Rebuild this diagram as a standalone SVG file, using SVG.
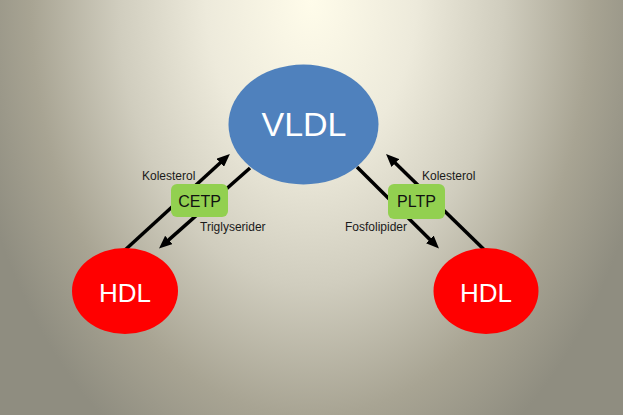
<svg xmlns="http://www.w3.org/2000/svg" width="623" height="415" viewBox="0 0 623 415">
  <defs>
    <radialGradient id="bg" gradientUnits="userSpaceOnUse" cx="0" cy="0" r="1" gradientTransform="translate(311,0) scale(350,520)">
      <stop offset="0" stop-color="#FFFCEA"/>
      <stop offset="0.3" stop-color="#EDEADB"/>
      <stop offset="0.55" stop-color="#D0CDBE"/>
      <stop offset="0.8" stop-color="#A8A493"/>
      <stop offset="1" stop-color="#8F8D80"/>
    </radialGradient>
    <marker id="ah" markerUnits="userSpaceOnUse" markerWidth="14" markerHeight="11" refX="3" refY="5.5" orient="auto">
      <path d="M0,0 L13,5.5 L0,11 z" fill="#000"/>
    </marker>
  </defs>
  <style>
    .conn { stroke: #000; stroke-width: 3.5; fill: none; marker-end: url(#ah); }
    .lbl { font-family: "Liberation Sans", Arial, sans-serif; font-size: 12px; fill: #1a1a1a; }
    .enz { fill: #92D050; }
    .enzt { font-family: "Liberation Sans", Arial, sans-serif; font-size: 16px; fill: #111; text-anchor: middle; }
    .big { font-family: "Liberation Sans", Arial, sans-serif; fill: #fff; text-anchor: middle; }
  </style>
  <rect x="0" y="0" width="623" height="415" fill="url(#bg)"/>

  <g id="connectors">
    <line class="conn" x1="125" y1="250" x2="222.5" y2="160.7"/>
    <line class="conn" x1="250" y1="168" x2="166.5" y2="241.9"/>
    <line class="conn" x1="357" y1="167" x2="431.9" y2="241.5"/>
    <line class="conn" x1="484.5" y1="250" x2="393.2" y2="160.9"/>
    <text class="lbl" x="142" y="180">Kolesterol</text>
    <text class="lbl" x="200" y="231">Triglyserider</text>
    <text class="lbl" x="422" y="180">Kolesterol</text>
    <text class="lbl" x="345" y="231">Fosfolipider</text>
  </g>

  <g id="vldl">
    <ellipse cx="303.5" cy="124.5" rx="75" ry="60" fill="#4F81BD"/>
    <text class="big" x="304" y="136" font-size="34">VLDL</text>
  </g>
  <g id="hdl-left">
    <ellipse cx="125" cy="291" rx="53" ry="43" fill="#FF0000"/>
    <text class="big" x="125" y="302" font-size="26">HDL</text>
  </g>
  <g id="hdl-right">
    <ellipse cx="486" cy="291" rx="52.5" ry="43" fill="#FF0000"/>
    <text class="big" x="486" y="302" font-size="26">HDL</text>
  </g>
  <g id="cetp">
    <rect class="enz" x="171" y="184" width="57" height="33" rx="6"/>
    <text class="enzt" x="199.5" y="207">CETP</text>
  </g>
  <g id="pltp">
    <rect class="enz" x="388" y="184" width="57" height="35" rx="6"/>
    <text class="enzt" x="416.5" y="207">PLTP</text>
  </g>
</svg>
